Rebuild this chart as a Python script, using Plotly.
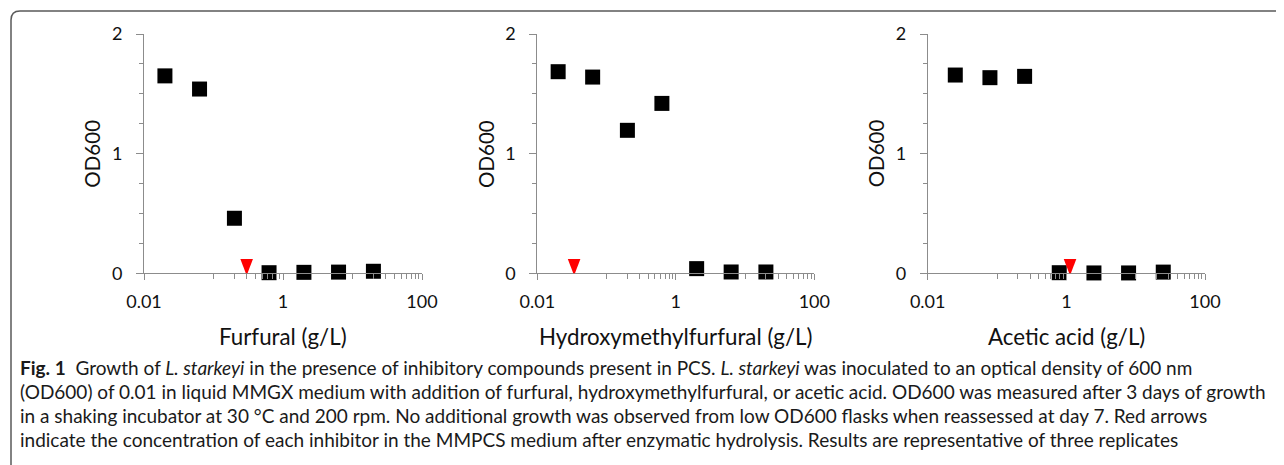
import plotly.graph_objects as go

# ---- data ----
furfural_conc = [0.02, 0.063, 0.2, 0.63, 2, 6.3, 20]
furfural_od = [1.65, 1.54, 0.46, 0.005, 0.008, 0.01, 0.017]

hmf_conc = [0.02, 0.063, 0.2, 0.63, 2, 6.3, 20]
hmf_od = [1.685, 1.64, 1.195, 1.42, 0.039, 0.011, 0.011]

acetic_conc = [0.025, 0.079, 0.25, 0.79, 2.5, 7.9, 25]
acetic_od = [1.657, 1.635, 1.646, 0.005, 0.003, 0.003, 0.01]

# concentration of each inhibitor in MMPCS medium (red arrows)
pcs_conc = [0.30, 0.034, 1.13]

x_titles = ["Furfural (g/L)", "Hydroxymethylfurfural (g/L)", "Acetic acid (g/L)"]
y_title = "OD600"
x_tickvals = [0.01, 1, 100]
x_ticktext = ["0.01", "1", "100"]
x_minor = [0.1, 0.2, 0.3, 0.4, 0.5, 0.6, 0.7, 0.8, 0.9,
           10, 20, 30, 40, 50, 60, 70, 80, 90]
y_tickvals = [0, 1, 2]
y_ticktext = ["0", "1", "2"]
y_minor = [0.25, 0.5, 0.75, 1.25, 1.5, 1.75]

caption_lines = [
    "<b>Fig. 1</b>  Growth of <i>L. starkeyi</i> in the presence of inhibitory compounds present in PCS. <i>L. starkeyi</i> was inoculated to an optical density of 600 nm",
    "(OD600) of 0.01 in liquid MMGX medium with addition of furfural, hydroxymethylfurfural, or acetic acid. OD600 was measured after 3 days of growth",
    "in a shaking incubator at 30 °C and 200 rpm. No additional growth was observed from low OD600 flasks when reassessed at day 7. Red arrows",
    "indicate the concentration of each inhibitor in the MMPCS medium after enzymatic hydrolysis. Results are representative of three replicates",
]

# ---- layout geometry (screen pixels; page body adds an 8 px offset) ----
OFF = 8
SW, SH = 1284, 465
W, H = SW - OFF, SH - OFF
x_px = [(144, 422), (537.3, 814.3), (927.7, 1205)]
y_top, y_bot = 34, 273.3

def px(x):
    return (x - OFF) / W

def py(y):
    return 1 - (y - OFF) / H

AX_COLOR = "#8c8c8c"
TICK_FONT = dict(family="Lato", size=18, color="#111111")
XTITLE_FONT = dict(family="Lato", size=22.3, color="#111111")
YTITLE_FONT = dict(family="Lato", size=20.5, color="#111111")
CAP_FONT = dict(family="Lato", size=19, color="#1a1a1a")

fig = go.Figure()

series = [(furfural_conc, furfural_od), (hmf_conc, hmf_od), (acetic_conc, acetic_od)]
for i, (xs, ys) in enumerate(series):
    sfx = "" if i == 0 else str(i + 1)
    fig.add_trace(go.Scatter(
        x=xs, y=ys, mode="markers",
        marker=dict(symbol="square", size=15, color="black"),
        cliponaxis=False, xaxis="x" + sfx, yaxis="y" + sfx,
        showlegend=False, hoverinfo="x+y",
    ))

layout = dict(
    template="none",
    width=W, height=H,
    margin=dict(l=0, r=0, t=0, b=0, pad=0, autoexpand=False),
    paper_bgcolor="white", plot_bgcolor="white",
    showlegend=False,
)

shapes = []
annotations = []
for i in range(3):
    sfx = "" if i == 0 else str(i + 1)
    x0, x1 = x_px[i]
    layout["xaxis" + sfx] = dict(
        type="log", range=[-2, 2], domain=[px(x0), px(x1)],
        anchor="y" + sfx, showline=True, linecolor=AX_COLOR, linewidth=1,
        showgrid=False, zeroline=False, automargin=False,
        tickmode="array", tickvals=x_tickvals, ticktext=x_ticktext,
        ticks="outside", ticklen=6, tickcolor=AX_COLOR, tickwidth=1,
        ticklabelstandoff=6,
        minor=dict(tickmode="array", tickvals=x_minor, ticks="outside",
                   ticklen=5, tickcolor=AX_COLOR, tickwidth=1, showgrid=False),
        tickfont=TICK_FONT, fixedrange=True,
    )
    layout["yaxis" + sfx] = dict(
        range=[0, 2], domain=[py(y_bot), py(y_top)],
        anchor="x" + sfx, showline=True, linecolor=AX_COLOR, linewidth=1,
        showgrid=False, zeroline=False, automargin=False,
        tickmode="array", tickvals=y_tickvals, ticktext=y_ticktext,
        ticks="outside", ticklen=7, tickcolor=AX_COLOR, tickwidth=1,
        ticklabelstandoff=10,
        minor=dict(tickmode="array", tickvals=y_minor, ticks="outside",
                   ticklen=4, tickcolor=AX_COLOR, tickwidth=1, showgrid=False),
        tickfont=TICK_FONT, fixedrange=True,
    )
    # red arrow marking the inhibitor level in MMPCS
    shapes.append(dict(
        type="path", xref="x" + sfx, yref="y" + sfx,
        xsizemode="pixel", ysizemode="pixel",
        xanchor=pcs_conc[i], yanchor=0,
        path="M-6.3,14.4 L6.3,14.4 L0,-2.2 Z",
        fillcolor="#ff0000", line=dict(width=0), layer="above",
    ))
    # axis titles
    annotations.append(dict(
        text=x_titles[i], xref="paper", yref="paper",
        x=px((x0 + x1) / 2), y=py(336), xanchor="center", yanchor="middle",
        showarrow=False, font=XTITLE_FONT,
    ))
    annotations.append(dict(
        text=y_title, xref="paper", yref="paper", textangle=-90,
        x=px(x0 - 52), y=py((y_top + y_bot) / 2), xanchor="center", yanchor="middle",
        showarrow=False, font=YTITLE_FONT,
    ))

# caption
cap_centers = [367, 391, 415, 439]
for line, yc in zip(caption_lines, cap_centers):
    annotations.append(dict(
        text=line, xref="paper", yref="paper",
        x=px(18), y=py(yc), xanchor="left", yanchor="middle",
        showarrow=False, font=CAP_FONT, align="left",
    ))

# rounded frame around the figure (open to the right and bottom)
r = 9
L, T = 11, 11
frame = (f"M {px(SW + 20)},{py(T)} L {px(L + r)},{py(T)} "
         f"Q {px(L)},{py(T)} {px(L)},{py(T + r)} L {px(L)},{py(SH + 20)}")
shapes.append(dict(type="path", xref="paper", yref="paper", path=frame,
                   line=dict(color="#5a5a5a", width=1.5), layer="below"))

layout["shapes"] = shapes
layout["annotations"] = annotations
fig.update_layout(**layout)

fig.write_html("out.html")
